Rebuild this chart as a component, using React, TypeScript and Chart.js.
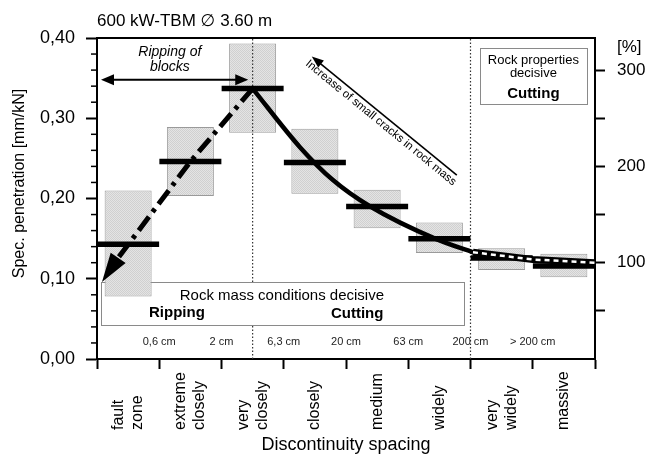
import React, { useEffect, useRef } from 'react';
import { Chart, registerables } from 'chart.js';

Chart.register(...registerables);

const FONT = '"Liberation Sans", Arial, Helvetica, "DejaVu Sans", sans-serif';

// ---- data -------------------------------------------------------------
const chartTitle = '600 kW-TBM \u2205 3.60 m';
const yTitle = 'Spec. penetration [mm/kN]';
const xTitle = 'Discontinuity spacing';
const rightUnit = '[%]';

const categoryLabels: (string | string[])[] = [
  ['fault', 'zone'],
  ['extreme', 'closely'],
  ['very', 'closely'],
  'closely',
  'medium',
  'widely',
  ['very', 'widely'],
  'massive',
];
const spacingBoundaryLabels = ['0,6 cm', '2 cm', '6,3 cm', '20 cm', '63 cm', '200 cm', '> 200 cm'];

// ranges of spec. penetration [mm/kN] per class
const rangeLow = [0.078, 0.203, 0.282, 0.206, 0.163, 0.132, 0.111, 0.102];
const rangeHigh = [0.21, 0.289, 0.393, 0.287, 0.211, 0.17, 0.138, 0.131];
const meanValues = [0.143, 0.246, 0.337, 0.245, 0.19, 0.15, 0.126, 0.116];

// trend lines (x in class units, 0 = left edge of "fault zone", 8 = right edge of "massive")
const cuttingCurveX = [2.5, 3.26, 3.79, 4.39, 5.46, 6.04];
const cuttingCurveY = [0.337, 0.264, 0.223, 0.19, 0.149, 0.133];
const rippingTrendX = [2.5, 1.5, 0.34];
const rippingTrendY = [0.337, 0.246, 0.126];
const rippingArrowTip = [0.08, 0.096];
const propertyTrendX = [6.04, 7.0, 8.0];
const propertyTrendY = [0.133, 0.124, 0.12];

// zone dividers (class units)
const dividerX = [2.5, 6.0];

// axes
const leftMin = 0;
const leftMax = 0.4;
const leftMajorStep = 0.1;
const leftMinorStep = 0.02;
const reference100 = 0.12; // spec. penetration equal to 100 %
const rightStep = 50;
const rightLabelled = [100, 200, 300];

// annotations (class units / mm/kN)
const massBoxX = [0.064, 5.896];
const massBoxY = [0.0424, 0.096];
const massBoxTitle = 'Rock mass conditions decisive';
const massBoxTitlePos = [2.97, 0.0786];
const massBoxRipping = 'Ripping';
const massBoxRippingPos = [0.835, 0.0574];
const massBoxCutting = 'Cutting';
const massBoxCuttingPos = [4.18, 0.0562];

const propBoxX = [6.15, 7.87];
const propBoxY = [0.318, 0.388];
const propBoxLines = ['Rock properties', 'decisive', 'Cutting'];
const propBoxLineY = [0.3716, 0.3554, 0.331];

const blocksArrowX = [0.064, 2.43];
const blocksArrowY = 0.348;
const blocksText = ['Ripping of', 'blocks'];
const blocksTextX = 1.17;
const blocksTextY = [0.382, 0.364];

const cracksArrowFrom = [5.78, 0.229];
const cracksArrowTo = [3.45, 0.377];
const cracksText = 'Increase of small cracks in rock mass';
const cracksTextPos = [4.56, 0.2943];

const spacingLabelY = 0.021;

// ---- helpers ----------------------------------------------------------
function arrowHead(ctx: CanvasRenderingContext2D, fx: number, fy: number, tx: number, ty: number, len: number, halfW: number) {
  const ang = Math.atan2(ty - fy, tx - fx);
  ctx.save();
  ctx.translate(tx, ty);
  ctx.rotate(ang);
  ctx.beginPath();
  ctx.moveTo(0, 0);
  ctx.lineTo(-len, -halfW);
  ctx.lineTo(-len, halfW);
  ctx.closePath();
  ctx.fill();
  ctx.restore();
}

function makePattern(): CanvasPattern | string {
  const c = document.createElement('canvas');
  c.width = 2;
  c.height = 2;
  const g = c.getContext('2d');
  if (!g) return '#dadada';
  g.fillStyle = '#e4e4e4';
  g.fillRect(0, 0, 2, 2);
  g.fillStyle = '#d0d0d0';
  g.fillRect(0, 0, 1, 1);
  g.fillRect(1, 1, 1, 1);
  return g.createPattern(c, 'repeat') || '#dadada';
}

const overlayPlugin = {
  id: 'overlay',
  beforeDatasetsDraw(chart: any) {
    const ctx: CanvasRenderingContext2D = chart.ctx;
    const X = (v: number) => chart.scales.xl.getPixelForValue(v);
    const Y = (v: number) => chart.scales.y.getPixelForValue(v);
    ctx.save();
    // rock mass box
    const bx0 = X(massBoxX[0]), bx1 = X(massBoxX[1]);
    const by0 = Y(massBoxY[1]), by1 = Y(massBoxY[0]);
    ctx.fillStyle = '#ffffff';
    ctx.fillRect(bx0, by0, bx1 - bx0, by1 - by0);
    ctx.strokeStyle = '#8a8a8a';
    ctx.lineWidth = 1;
    ctx.strokeRect(Math.round(bx0) + 0.5, Math.round(by0) + 0.5, Math.round(bx1 - bx0), Math.round(by1 - by0));
    ctx.fillStyle = '#000';
    ctx.textBaseline = 'middle';
    ctx.textAlign = 'center';
    ctx.font = `15px ${FONT}`;
    ctx.fillText(massBoxTitle, X(massBoxTitlePos[0]), Y(massBoxTitlePos[1]));
    ctx.font = `bold 15px ${FONT}`;
    ctx.textAlign = 'left';
    ctx.fillText(massBoxRipping, X(massBoxRippingPos[0]), Y(massBoxRippingPos[1]));
    ctx.textAlign = 'center';
    ctx.fillText(massBoxCutting, X(massBoxCuttingPos[0]), Y(massBoxCuttingPos[1]));

    // rock properties box
    const px0 = X(propBoxX[0]), px1 = X(propBoxX[1]);
    const py0 = Y(propBoxY[1]), py1 = Y(propBoxY[0]);
    ctx.fillStyle = '#ffffff';
    ctx.fillRect(px0, py0, px1 - px0, py1 - py0);
    ctx.strokeStyle = '#8a8a8a';
    ctx.strokeRect(Math.round(px0) + 0.5, Math.round(py0) + 0.5, Math.round(px1 - px0), Math.round(py1 - py0));
    ctx.fillStyle = '#000';
    const pcx = (px0 + px1) / 2;
    propBoxLines.forEach((t, i) => {
      ctx.font = i === 2 ? `bold 15px ${FONT}` : `13px ${FONT}`;
      ctx.fillText(t, pcx, Y(propBoxLineY[i]));
    });
    ctx.restore();
  },
  afterDatasetsDraw(chart: any) {
    const ctx: CanvasRenderingContext2D = chart.ctx;
    const X = (v: number) => chart.scales.xl.getPixelForValue(v);
    const Y = (v: number) => chart.scales.y.getPixelForValue(v);
    ctx.save();
    ctx.fillStyle = '#000';
    ctx.strokeStyle = '#000';

    // dash-dot arrow head
    const n = rippingTrendX.length - 1;
    const bX = X(rippingTrendX[n]), bY = Y(rippingTrendY[n]);
    const tX = X(rippingArrowTip[0]), tY = Y(rippingArrowTip[1]);
    arrowHead(ctx, bX, bY, tX, tY, Math.hypot(tX - bX, tY - bY), 9);

    // ripping of blocks double arrow
    const ax0 = X(blocksArrowX[0]), ax1 = X(blocksArrowX[1]), ay = Y(blocksArrowY);
    ctx.lineWidth = 2;
    ctx.beginPath();
    ctx.moveTo(ax0 + 8, ay);
    ctx.lineTo(ax1 - 8, ay);
    ctx.stroke();
    arrowHead(ctx, ax1, ay, ax0, ay, 13, 5.5);
    arrowHead(ctx, ax0, ay, ax1, ay, 13, 5.5);
    ctx.font = `italic 14px ${FONT}`;
    ctx.textAlign = 'center';
    ctx.textBaseline = 'middle';
    blocksText.forEach((t, i) => ctx.fillText(t, X(blocksTextX), Y(blocksTextY[i])));

    // cracks arrow
    const cfx = X(cracksArrowFrom[0]), cfy = Y(cracksArrowFrom[1]);
    const ctx2 = X(cracksArrowTo[0]), cty = Y(cracksArrowTo[1]);
    ctx.lineWidth = 1.6;
    ctx.beginPath();
    ctx.moveTo(cfx, cfy);
    const ang = Math.atan2(cty - cfy, ctx2 - cfx);
    ctx.lineTo(ctx2 - Math.cos(ang) * 8, cty - Math.sin(ang) * 8);
    ctx.stroke();
    arrowHead(ctx, cfx, cfy, ctx2, cty, 12, 4.5);
    ctx.save();
    ctx.translate(X(cracksTextPos[0]), Y(cracksTextPos[1]));
    ctx.rotate(Math.atan2(cfy - cty, cfx - ctx2));
    ctx.font = `11.5px ${FONT}`;
    ctx.fillText(cracksText, 0, 0);
    ctx.restore();
    ctx.restore();
  },
  afterDraw(chart: any) {
    const ctx: CanvasRenderingContext2D = chart.ctx;
    const area = chart.chartArea;
    const xs = chart.scales.x;
    const xl = chart.scales.xl;
    const ys = chart.scales.y;
    const y2 = chart.scales.y2;
    ctx.save();
    // top frame
    ctx.strokeStyle = '#000';
    ctx.lineWidth = 2;
    ctx.beginPath();
    ctx.moveTo(area.left - 1, area.top);
    ctx.lineTo(area.right + 1, area.top);
    ctx.stroke();

    // minor ticks on left axis
    ctx.lineWidth = 1.5;
    const nMinor = Math.round((leftMax - leftMin) / leftMinorStep);
    for (let i = 1; i < nMinor; i++) {
      const v = leftMin + i * leftMinorStep;
      if (Math.abs(v / leftMajorStep - Math.round(v / leftMajorStep)) < 1e-6) continue;
      const py = ys.getPixelForValue(v);
      ctx.beginPath();
      ctx.moveTo(area.left - 6, py);
      ctx.lineTo(area.left, py);
      ctx.stroke();
    }

    ctx.fillStyle = '#000';
    // title
    ctx.font = `17px ${FONT}`;
    ctx.textAlign = 'left';
    ctx.textBaseline = 'middle';
    ctx.fillText(chartTitle, area.left, area.top - 17);
    // [%]
    ctx.fillText(rightUnit, y2.left + 22, area.top + 9);

    // y title
    ctx.save();
    ctx.font = `16px ${FONT}`;
    ctx.textAlign = 'center';
    ctx.translate(area.left - 77, (area.top + area.bottom) / 2 - 15);
    ctx.rotate(-Math.PI / 2);
    ctx.fillText(yTitle, 0, 0);
    ctx.restore();

    // category labels (rotated, start aligned)
    ctx.font = `16px ${FONT}`;
    ctx.textAlign = 'left';
    const labels = chart.data.labels as (string | string[])[];
    labels.forEach((lab, i) => {
      const lines = Array.isArray(lab) ? lab : [lab];
      const cx = xs.getPixelForValue(i);
      lines.forEach((ln, j) => {
        const off = (j - (lines.length - 1) / 2) * 19;
        ctx.save();
        ctx.translate(cx + off, xs.top + 71);
        ctx.rotate(-Math.PI / 2);
        ctx.fillText(ln, 0, 0);
        ctx.restore();
      });
    });

    // spacing boundary labels
    ctx.font = `11px ${FONT}`;
    ctx.textAlign = 'center';
    ctx.fillStyle = '#222';
    spacingBoundaryLabels.forEach((t, i) => {
      ctx.fillText(t, xl.getPixelForValue(i + 1), ys.getPixelForValue(spacingLabelY));
    });
    ctx.restore();
  },
};

export default function App() {
  const ref = useRef<HTMLCanvasElement | null>(null);
  useEffect(() => {
    if (!ref.current) return;
    const pattern = makePattern();
    const dividerData = (x: number) =>
      x === dividerX[0]
        ? [
            { x, y: leftMin },
            { x, y: massBoxY[0] },
            { x, y: null },
            { x, y: massBoxY[1] },
            { x, y: leftMax },
          ]
        : [
            { x, y: leftMin },
            { x, y: leftMax },
          ];
    const lineBase = {
      type: 'line' as const,
      xAxisID: 'xl',
      yAxisID: 'y',
      pointRadius: 0,
      pointHoverRadius: 0,
      fill: false,
    };
    const chart = new Chart(ref.current, {
      type: 'bar',
      data: {
        labels: categoryLabels as any,
        datasets: [
          {
            type: 'bar',
            label: 'range',
            data: rangeLow.map((l, i) => [l, rangeHigh[i]]) as any,
            backgroundColor: pattern as any,
            borderColor: '#9a9a9a',
            borderWidth: 1,
            borderSkipped: false,
            barPercentage: 0.755,
            categoryPercentage: 1,
            grouped: false,
            xAxisID: 'x',
            yAxisID: 'y',
            order: 10,
          },
          ...dividerX.map((x) => ({
            ...lineBase,
            label: 'divider',
            data: dividerData(x) as any,
            borderColor: '#333',
            borderWidth: 1.2,
            borderDash: [1.5, 2],
            spanGaps: false,
            order: 8,
          })),
          {
            type: 'line',
            label: 'mean',
            data: meanValues,
            showLine: false,
            pointStyle: 'line',
            pointRadius: 31,
            pointHoverRadius: 31,
            pointBorderWidth: 5.5,
            pointHoverBorderWidth: 5.5,
            pointBorderColor: '#000',
            pointBackgroundColor: '#000',
            xAxisID: 'x',
            yAxisID: 'y',
            order: 6,
          } as any,
          {
            ...lineBase,
            label: 'cutting',
            data: cuttingCurveX.map((x, i) => ({ x, y: cuttingCurveY[i] })),
            borderColor: '#000',
            borderWidth: 4.5,
            cubicInterpolationMode: 'monotone',
            borderCapStyle: 'round',
            order: 2,
          } as any,
          {
            ...lineBase,
            label: 'ripping',
            data: rippingTrendX.map((x, i) => ({ x, y: rippingTrendY[i] })),
            borderColor: '#000',
            borderWidth: 5,
            borderDash: [17, 6, 4, 6],
            tension: 0,
            order: 2,
          } as any,
          {
            ...lineBase,
            label: 'properties',
            data: propertyTrendX.map((x, i) => ({ x, y: propertyTrendY[i] })),
            borderColor: '#000',
            borderWidth: 7,
            tension: 0,
            order: 3,
          } as any,
          {
            ...lineBase,
            label: 'properties-dash',
            data: propertyTrendX.map((x, i) => ({ x, y: propertyTrendY[i] })),
            borderColor: '#fff',
            borderWidth: 2.5,
            borderDash: [5, 4],
            tension: 0,
            order: 1,
          } as any,
        ],
      },
      options: {
        responsive: false,
        maintainAspectRatio: false,
        animation: false,
        layout: { padding: { top: 38, left: 0, right: 0, bottom: 0 } },
        plugins: {
          legend: { display: false },
          tooltip: { enabled: false },
          title: { display: false },
        },
        scales: {
          x: {
            type: 'category',
            position: 'bottom',
            offset: true,
            grid: {
              offset: true,
              drawOnChartArea: false,
              tickLength: 10,
              tickWidth: 2,
              tickColor: '#000',
            },
            border: { color: '#000', width: 2 },
            ticks: { display: false },
            title: {
              display: true,
              text: xTitle,
              color: '#000',
              font: { family: FONT, size: 18 },
              padding: { top: 0, bottom: 0 },
            },
            afterFit: (s: any) => {
              s.height = 97;
            },
          },
          xl: {
            type: 'linear',
            display: false,
            offset: false,
            grid: { offset: false },
            min: 0,
            max: categoryLabels.length,
          },
          y: {
            type: 'linear',
            position: 'left',
            min: leftMin,
            max: leftMax,
            grid: {
              drawOnChartArea: false,
              tickLength: 11,
              tickWidth: 2,
              tickColor: '#000',
            },
            border: { color: '#000', width: 2 },
            ticks: {
              stepSize: leftMajorStep,
              color: '#000',
              padding: 11,
              font: { family: FONT, size: 18 },
              callback: (v: any) => Number(v).toFixed(2).replace('.', ','),
            },
            afterFit: (s: any) => {
              s.width = 97;
            },
          },
          y2: {
            type: 'linear',
            position: 'right',
            min: 0,
            max: (leftMax / reference100) * 100,
            grid: {
              drawOnChartArea: false,
              tickLength: 10,
              tickWidth: 2,
              tickColor: '#000',
            },
            border: { color: '#000', width: 2 },
            ticks: {
              stepSize: rightStep,
              color: '#000',
              padding: 12,
              font: { family: FONT, size: 17 },
              callback: (v: any) => (rightLabelled.includes(Number(v)) ? String(v) : ''),
            },
            afterBuildTicks: (s: any) => {
              s.ticks = s.ticks.filter(
                (t: any) => t.value > 0 && Math.abs(t.value / rightStep - Math.round(t.value / rightStep)) < 1e-6
              );
            },
            afterFit: (s: any) => {
              s.width = 53;
            },
          },
        },
      } as any,
      plugins: [overlayPlugin],
    });
    return () => chart.destroy();
  }, []);

  return (
    <div style={{ position: 'absolute', left: 0, top: 0, width: 648, height: 456, background: '#fff' }}>
      <canvas ref={ref} width={648} height={456} style={{ display: 'block' }} />
    </div>
  );
}
